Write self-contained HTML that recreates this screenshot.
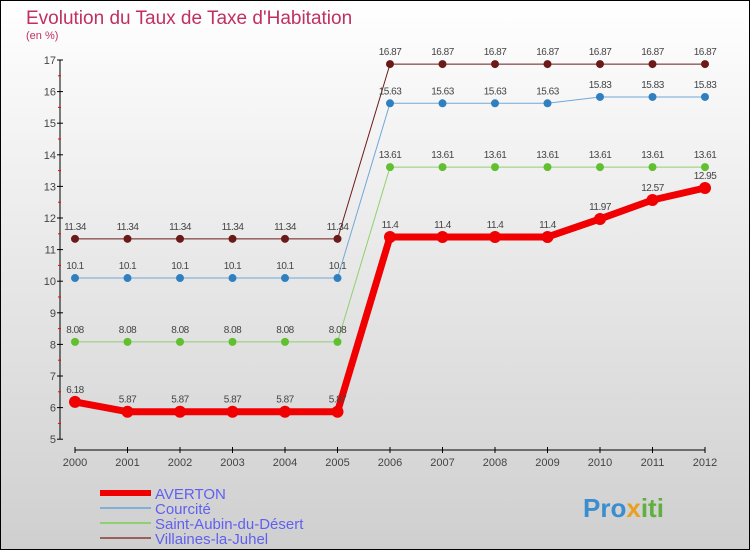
<!DOCTYPE html>
<html><head><meta charset="utf-8"><style>
body{margin:0;width:750px;height:550px;overflow:hidden}
svg{display:block;font-family:"Liberation Sans",sans-serif}
</style></head><body>
<svg width="750" height="550">
<defs><linearGradient id="bg" x1="0" y1="0" x2="0" y2="1"><stop offset="0" stop-color="#ffffff"/><stop offset="1" stop-color="#cfcfcf"/></linearGradient></defs>
<rect x="0.5" y="0.5" width="749" height="549" fill="url(#bg)" stroke="#000"/>
<text x="26" y="24" font-size="19" fill="#c03060">Evolution du Taux de Taxe d'Habitation</text>
<text x="26" y="39" font-size="11" fill="#c03060">(en %)</text>
<g id="axes"></g><g id="series"></g><g id="legend"></g>
<text x="583" y="517" font-size="26" font-weight="bold" fill="#3a8ed0">Pro<tspan fill="#e8a020">x</tspan><tspan fill="#60b040">iti</tspan></text>
</svg>
<script>
const years=[2000,2001,2002,2003,2004,2005,2006,2007,2008,2009,2010,2011,2012];
const yTicks=[5,6,7,8,9,10,11,12,13,14,15,16,17];
const averton=[6.18,5.87,5.87,5.87,5.87,5.87,11.4,11.4,11.4,11.4,11.97,12.57,12.95];
const courcite=[10.1,10.1,10.1,10.1,10.1,10.1,15.63,15.63,15.63,15.63,15.83,15.83,15.83];
const saintAubin=[8.08,8.08,8.08,8.08,8.08,8.08,13.61,13.61,13.61,13.61,13.61,13.61,13.61];
const villaines=[11.34,11.34,11.34,11.34,11.34,11.34,16.87,16.87,16.87,16.87,16.87,16.87,16.87];
const NS="http://www.w3.org/2000/svg";
function X(i){return 75+i*52.5;}
function Y(v){return 60+(17-v)*31.6;}
function mk(p,t,a){const e=document.createElementNS(NS,t);for(const k in a)e.setAttribute(k,a[k]);p.appendChild(e);return e;}
const ax=document.getElementById('axes');
let e=mk(ax,'line',{x1:60,y1:Y(17),x2:60,y2:Y(5),stroke:'#000'});


yTicks.forEach(v=>{
  mk(ax,'line',{x1:57,y1:Y(v),x2:63,y2:Y(v),stroke:'#000'});
  if(v<17)mk(ax,'line',{x1:58,y1:Y(v+0.5),x2:61,y2:Y(v+0.5),stroke:'#f00'});
  const t=mk(ax,'text',{x:56,y:Y(v)+4,'font-size':11,fill:'#444','text-anchor':'end'});t.textContent=v;
  
  
});
e=mk(ax,'line',{x1:75,y1:450,x2:X(12),y2:450,stroke:'#000'});


years.forEach((y,i)=>{
  mk(ax,'line',{x1:X(i),y1:447,x2:X(i),y2:453,stroke:'#000'});
  const t=mk(ax,'text',{x:X(i),y:466,'font-size':11,fill:'#444','text-anchor':'middle'});t.textContent=y;
  
  
});
const S=document.getElementById('series');
const defs=[[villaines,'#6b1a1a','#6b1a1a',1,4,'villaines'],[saintAubin,'#90d070','#60c030',1,4,'saint-aubin'],[courcite,'#70a8d8','#3080c0',1,4,'courcite'],[averton,'#f00000','#f00000',7,6,'averton']];
defs.forEach(([d,c,mc,w,r,n])=>{
  const g=mk(S,'g',{});
  
  
  const pl=mk(g,'polyline',{points:d.map((v,i)=>X(i)+','+Y(v)).join(' '),fill:'none',stroke:c,'stroke-width':w,'stroke-linejoin':'round'});
  d.forEach((v,i)=>{
    const p=mk(g,'circle',{cx:X(i),cy:Y(v),r:r,fill:mc});
    
    
    const t=mk(g,'text',{x:X(i),y:Y(v)-9,'font-size':10,fill:'#444','text-anchor':'middle','letter-spacing':'-0.5'});t.textContent=v;
    
    
  });
});
const L=document.getElementById('legend');
[['AVERTON','#f00000',6],['Courcité','#80b0d8',2],['Saint-Aubin-du-Désert','#90d070',2],['Villaines-la-Juhel','#9a6060',2]].forEach(([n,c,w],i)=>{
  const y=493+i*15;
  const g=mk(L,'g',{});
  
  
  mk(g,'line',{x1:100,y1:y,x2:151,y2:y,stroke:c,'stroke-width':w});
  const t=mk(g,'text',{x:155,y:y+6,'font-size':15,fill:'#6060f0'});t.textContent=n;
});
</script>
</body></html>
